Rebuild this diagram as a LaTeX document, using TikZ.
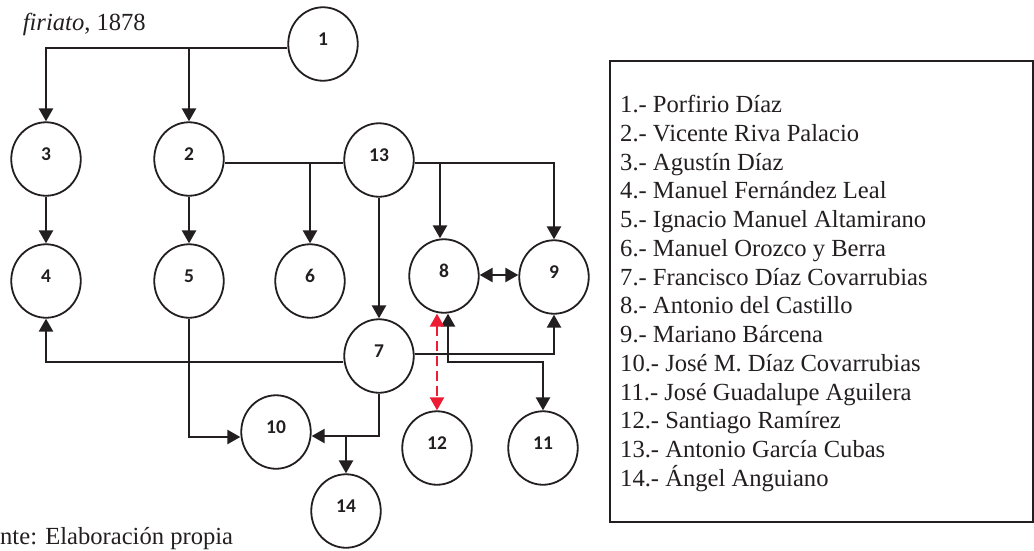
\documentclass[tikz,border=0pt]{standalone}
\usepackage{fontspec}
\setmainfont{Liberation Serif}
\newfontfamily\numfont{Carlito}
\usetikzlibrary{arrows.meta,shapes.geometric}
\definecolor{ink}{RGB}{35,31,32}
\definecolor{linkred}{RGB}{237,28,52}

\begin{document}
\begin{tikzpicture}[x=1pt,y=-1pt,
  person/.style={ellipse, draw=ink, line width=1.8pt,
    minimum width=69.5pt, minimum height=73.5pt, inner sep=0pt,
    font=\numfont\bfseries\fontsize{19.5}{21}\selectfont,
    text height=12.5pt, text depth=10.5pt, text=ink},
  link/.style={draw=ink, line width=2.4pt},
  tip/.style={link, -{Triangle[width=14pt,length=13pt]}},
  bothtips/.style={link, {Triangle[width=14pt,length=13pt]}-{Triangle[width=14pt,length=13pt]}},
  redlink/.style={draw=linkred, line width=2.2pt, dash pattern=on 10pt off 5pt,
    {Triangle[width=14pt,length=13pt]}-{Triangle[width=14pt,length=13pt]}},
  serif/.style={font=\fontsize{24.6}{28.8}\selectfont, text=ink, inner sep=0pt}
]
\useasboundingbox (0,0) rectangle (1034,550);

% people
\node[person] (n1)  at (323,44)  {1};
\node[person] (n3)  at (46,159)  {3};
\node[person] (n2)  at (189,159) {2};
\node[person] (n13) at (379,160) {13};
\node[person] (n4)  at (46,281)  {4};
\node[person] (n5)  at (189,281) {5};
\node[person] (n6)  at (310,281) {6};
\node[person] (n8)  at (444,276) {8};
\node[person] (n9)  at (554,277) {9};
\node[person] (n7)  at (379,356) {7};
\node[person] (n10) at (276,432) {10};
\node[person] (n14) at (346,511) {14};
\node[person] (n12) at (437,448) {12};
\node[person] (n11) at (543,448) {11};

% links from 1
\draw[tip] (n1.west |- 0,48) -| (n3);
\draw[tip] (n2 |- 0,48) -- (n2);
\draw[tip] (n3) -- (n4);
\draw[tip] (n2) -- (n5);

% links along the 2 -- 13 -- 9 row
\draw[link] (n2.east |- 0,163) -- (n13.west |- 0,163);
\draw[tip] (n6 |- 0,163) -- (n6);
\draw[tip] (n13.east |- 0,163) -| (n9);
\draw[tip] ([xshift=-4pt]n8.north |- 0,163) -- ([xshift=-4pt]n8.north);
\draw[tip] (n13) -- (n7);
\draw[bothtips] (n8.east |- 0,275) -- (n9.west |- 0,275);

% links from 7
\draw[tip] (n7.west |- 0,362) -| (n4);
\draw[tip] (n7.east |- 0,354) -| (n9);
\draw[tip] (n7.south) |- ([yshift=-4pt]n10.east);
\draw[tip] (n14 |- 0,436) -- (n14);
\draw[tip] (n5.south) |- ([yshift=-5pt]n10.west);

% 8 -- 11 and 8 -- 12
\coordinate (k1) at (448,362);
\draw[bothtips] (n8.south -| k1) -- (k1) -| (n11);
\draw[redlink] (n12.north |- n8.south) -- (n12.north);

% heading and source
\node[serif, anchor=base east] (title) at (146,30) {\textit{firiato}, 1878};
\node[serif, anchor=base west] (source) at (0,544) {nte: Elaboración propia};

% key
\draw[draw=ink, line width=2.2pt] (610,61) rectangle (1033,522);
\foreach \i/\t in {1/{Porfirio Díaz}, 2/{Vicente Riva Palacio}, 3/{Agustín Díaz},
  4/{Manuel Fernández Leal}, 5/{Ignacio Manuel Altamirano}, 6/{Manuel Orozco y Berra},
  7/{Francisco Díaz Covarrubias}, 8/{Antonio del Castillo}, 9/{Mariano Bárcena},
  10/{José M. Díaz Covarrubias}, 11/{José Guadalupe Aguilera}, 12/{Santiago Ramírez},
  13/{Antonio García Cubas}, 14/{Ángel Anguiano}}
  \node[serif, anchor=base west] (key\i) at (620,{112.5+(\i-1)*28.75}) {\i.- \t};
\end{tikzpicture}
\end{document}
